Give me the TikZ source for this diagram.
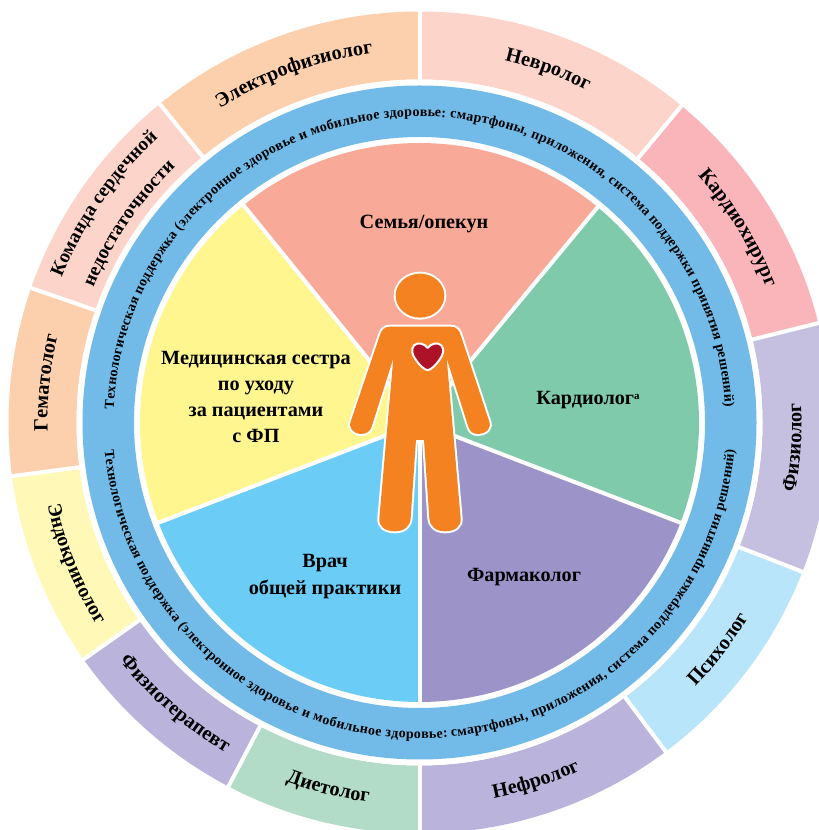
\documentclass[tikz,border=0pt]{standalone}
\usepackage{fontspec}
\setmainfont{Liberation Serif}
\usetikzlibrary{decorations.text}
\definecolor{cSem}{HTML}{F9A998}
\definecolor{cKar}{HTML}{80CAAC}
\definecolor{cFar}{HTML}{9C94C9}
\definecolor{cVra}{HTML}{6BCDF5}
\definecolor{cMed}{HTML}{FFF68F}
\definecolor{cRing}{HTML}{72BBE8}
\definecolor{cEle}{HTML}{FDD0AD}
\definecolor{cNev}{HTML}{FCD4C9}
\definecolor{cKh}{HTML}{F9B5BA}
\definecolor{cFiz}{HTML}{C5C0E0}
\definecolor{cPsi}{HTML}{B9E5FA}
\definecolor{cNef}{HTML}{BAB3DB}
\definecolor{cDie}{HTML}{B2DBC8}
\definecolor{cEnd}{HTML}{FFF8B6}
\definecolor{cBody}{HTML}{F58220}
\definecolor{cHeart}{HTML}{AE1229}
\tikzset{
  gap/.style={white,line width=4pt},
  pielabel/.style={font=\bfseries\fontsize{20.2}{26}\selectfont,align=center,text=black,inner sep=0pt},
  figure part/.style={fill=cBody,preaction={draw=white,line width=4pt,line join=round}},
}
% outer ring segment: from-angle, to-angle, colour
\newcommand{\seg}[3]{\fill[#3] (#1:343) arc[start angle=#1,end angle=#2,radius=343] -- (#2:411) arc[start angle=#2,end angle=#1,radius=411] -- cycle;}
\newcommand{\slice}[3]{\fill[#3] (0,0) -- (#1:279.5) arc[start angle=#1,end angle=#2,radius=279.5] -- cycle;}
% arc labels: [size], radius, centre angle, text
\newcommand{\cwlab}[4][20.3]{\path[decorate,decoration={text along path,text align=center,text={|\bfseries\fontsize{#1}{21}\selectfont|#4}}] ({#3+60}:#2) arc[start angle={#3+60},end angle={#3-60},radius=#2];}
\newcommand{\ccwlab}[4][20.3]{\path[decorate,decoration={text along path,text align=center,text={|\bfseries\fontsize{#1}{21}\selectfont|#4}}] ({#3-60}:#2) arc[start angle={#3-60},end angle={#3+60},radius=#2];}
\begin{document}
\begin{tikzpicture}[x=1pt,y=1pt]
\useasboundingbox (0,0) rectangle (819,830);
\clip (0,0) rectangle (819,830);
\fill[white] (0,0) rectangle (819,830);
\begin{scope}[shift={(419.5pt,407.5pt)}]
  % outer ring
  \seg{90}{50.4}{cNev}
  \seg{50.4}{14}{cKh}
  \seg{14}{-21.3}{cFiz}
  \seg{-21.3}{-53.2}{cPsi}
  \seg{-53.2}{-90}{cNef}
  \seg{-90}{-117.7}{cDie}
  \seg{242.3}{215.2}{cNef}
  \seg{215.2}{187.5}{cEnd}
  \seg{187.5}{160.9}{cEle}
  \seg{160.9}{129.2}{cNev}
  \seg{129.2}{90}{cEle}
  \foreach \a in {90,50.4,14,-21.3,-53.2,-90,-117.7,215.2,187.5,160.9,129.2}
    \draw[gap] (\a:340) -- (\a:414);
  \fill[white] (0,0) circle[radius=343];
  % blue ring
  \fill[cRing,even odd rule] (0,0) circle[radius=337] (0,0) circle[radius=285.5];
  % pie
  \slice{50.4}{129}{cSem}
  \slice{-21}{50.4}{cKar}
  \slice{-90}{-21}{cFar}
  \slice{-159}{-90}{cVra}
  \slice{129}{201}{cMed}
  \foreach \a in {50.4,129,201,-90,-21}
    \draw[gap] (0,0) -- (\a:283);
  % ring texts
  \path[decorate,decoration={text along path,text align=fit to path,text={|\bfseries\fontsize{14}{15}\selectfont|Технологическая поддержка (электронное здоровье и мобильное здоровье: смартфоны, приложения, система поддержки принятия решений)}}] (177.5:306) arc[start angle=177.5,end angle=3,radius=306];
  \path[decorate,decoration={text along path,text align=fit to path,text={|\bfseries\fontsize{14}{15}\selectfont|Технологическая поддержка (электронное здоровье и мобильное здоровье: смартфоны, приложения, система поддержки принятия решений)}}] (185:316) arc[start angle=185,end angle=355,radius=316];
  % outer labels
  \cwlab{372}{109.8}{Электрофизиолог}
  \cwlab{372}{70}{Невролог}
  \cwlab{372}{31.4}{Кардиохирург}
  \ccwlab{382}{-3.8}{Физиолог}
  \ccwlab{382}{-37.2}{Психолог}
  \ccwlab{383}{-72}{Нефролог}
  \ccwlab{383}{-104}{Диетолог}
  \ccwlab{383}{229}{Физиотерапевт}
  \ccwlab[19.8]{381}{202.3}{Эндокринолог}
  \cwlab{372}{173.9}{Гематолог}
  \cwlab[19.3]{386}{145.3}{Команда сердечной}
  \cwlab[19.3]{353}{145.6}{недостаточности}
\end{scope}
% pie labels
\node[pielabel] (semya) at (424,606.5) {Семья/опекун};
\node[pielabel] (kard) at (588,429.5) {Кардиолог\raisebox{0.55ex}{\fontsize{11}{11}\selectfont а}};
\node[pielabel] (farm) at (524,253) {Фармаколог};
\node[pielabel] (vrach) at (325,253) {Врач\\[1pt]общей практики};
\node[pielabel] (med) at (256,433) {Медицинская сестра\\по уходу\\за пациентами\\с ФП};
% person (coordinates of a 3x crop at 340,260)
\begin{scope}[shift={(340pt,570pt)},x=0.3333pt,y=-0.3333pt]
  \path[figure part] (240,107) ellipse[x radius=73,y radius=66];
  \path[figure part]
    (150,200) -- (332,200)
    .. controls (348,200) and (358,210) .. (362,225)
    -- (447,482)
    .. controls (456,505) and (440,520) .. (415,522)
    .. controls (398,522) and (390,515) .. (385,500)
    -- (320,295)
    -- (362,775)
    .. controls (364,800) and (345,814) .. (315,814)
    .. controls (288,814) and (270,800) .. (268,775)
    -- (252,540) -- (228,540)
    -- (212,775)
    .. controls (210,800) and (192,814) .. (165,814)
    .. controls (135,814) and (116,800) .. (118,775)
    -- (160,295)
    -- (95,500)
    .. controls (90,515) and (80,522) .. (62,522)
    .. controls (40,520) and (24,505) .. (33,482)
    -- (120,225)
    .. controls (124,210) and (134,200) .. (150,200)
    -- cycle;
  \draw[white,fill=cHeart,line width=2pt,line join=round]
    (263,264)
    .. controls (272,250) and (294,246) .. (304,256)
    .. controls (314,268) and (310,285) .. (298,300)
    .. controls (288,315) and (275,328) .. (263,331)
    .. controls (251,328) and (238,315) .. (228,300)
    .. controls (216,285) and (212,268) .. (222,256)
    .. controls (232,246) and (254,250) .. (263,264)
    -- cycle;
\end{scope}
\end{tikzpicture}
\end{document}
